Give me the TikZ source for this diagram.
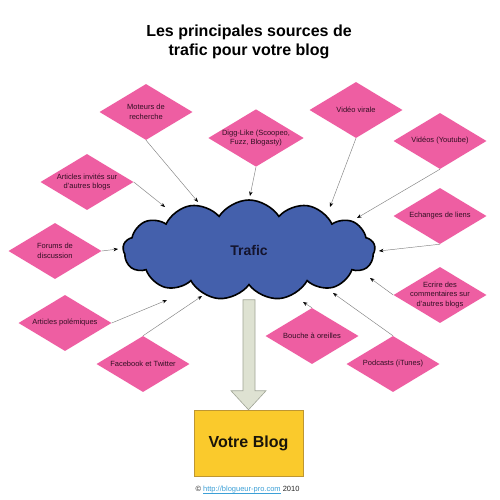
\documentclass[tikz,border=0pt]{standalone}
\usepackage{fontspec}
\setmainfont{Liberation Sans}
\usetikzlibrary{shapes.geometric,shapes.symbols,arrows.meta}
\newcommand\myunderl[1]{\setbox0\hbox{#1}\rlap{\rule[-1.3pt]{\wd0}{0.45pt}}\box0}
\definecolor{pinkd}{RGB}{238,94,162}
\definecolor{cloudb}{RGB}{68,96,172}
\definecolor{bloggy}{RGB}{250,202,44}
\definecolor{blogedge}{RGB}{190,150,50}
\definecolor{arrowfill}{RGB}{222,226,210}
\definecolor{arrowedge}{RGB}{160,165,150}
\definecolor{diatext}{RGB}{50,15,35}
\definecolor{linkc}{RGB}{60,160,215}
\definecolor{lineg}{RGB}{130,130,130}
\tikzset{
  dia/.style={diamond, fill=pinkd, draw=none, aspect=1.66, minimum width=93pt, minimum height=56pt,
    inner sep=0pt, align=center, text=diatext, font=\fontsize{7.5}{9.5}\selectfont},
  feed/.style={draw=lineg, line width=0.45pt, -{Stealth[length=4.5pt,width=3.5pt,black]}},
  trafcloud/.style={cloud, cloud puffs=13, cloud puff arc=115, aspect=2.4, fill=cloudb, draw=black,
    line width=1.6pt, minimum width=252pt, minimum height=100pt, inner sep=0pt,
    font=\fontsize{14}{16}\selectfont\bfseries, text={rgb,255:red,20;green,20;blue,45}},
  blogbox/.style={rectangle, fill=bloggy, draw=blogedge, line width=0.5pt, minimum width=109pt,
    minimum height=66pt, font=\fontsize{16}{18}\selectfont\bfseries, text={rgb,255:red,25;green,20;blue,10}},
  bigarrow/.style={fill=arrowfill, draw=arrowedge, line width=0.6pt}
}
\begin{document}
\begin{tikzpicture}[x=1pt,y=-1pt]
\useasboundingbox (0,0) rectangle (500,500);
\fill[white] (0,0) rectangle (500,500);
\node[align=center, font=\fontsize{16}{19.5}\selectfont\bfseries] (title) at (249,42) {Les principales sources de\\trafic pour votre blog};

\node[blogbox] (blog) at (248.5,443) {Votre Blog};
\draw[bigarrow, shift={(blog.north)}] (-5.5,-110) -- (-5.5,-19) -- (-17.5,-19) -- (0,0) -- (17.5,-19) -- (6.5,-19) -- (6.5,-110) -- cycle;

\node[trafcloud] (cloud) at (249,250) {Trafic};

\node[dia] (moteurs) at (146,112) {Moteurs de\\recherche};
\node[dia] (digg) at (256,138) {Digg-Like (Scoopeo,\\Fuzz, Blogasty)};
\node[dia] (virale) at (356,110) {Vidéo virale};
\node[dia] (youtube) at (440,141) {Vidéos (Youtube)};
\node[dia] (invites) at (87,182) {Articles invités sur\\d'autres blogs};
\node[dia] (forums) at (55,251) {Forums de\\discussion};
\node[dia] (polem) at (65,323) {Articles polémiques};
\node[dia] (facebook) at (143,364) {Facebook et Twitter};
\node[dia] (echanges) at (440,216) {Echanges de liens};
\node[dia, inner sep=-8pt] (ecrire) at (440,295) {Ecrire des\\commentaires sur\\d'autres blogs};
\node[dia] (bouche) at (312,336) {Bouche à oreilles};
\node[dia] (podcasts) at (393,364) {Podcasts (iTunes)};

\coordinate (tMoteurs) at (198,202);
\coordinate (tDigg) at (250,196);
\coordinate (tVirale) at (330,207);
\coordinate (tYoutube) at (357,218);
\coordinate (tInvites) at (165,207);
\coordinate (tForums) at (118,249);
\coordinate (tPolem) at (167,300);
\coordinate (tFacebook) at (202,296);
\coordinate (tEchanges) at (379,251);
\coordinate (tEcrire) at (370,278);
\coordinate (tBouche) at (303,302);
\coordinate (tPodcasts) at (333,293);

\draw[feed] (moteurs.south) -- (tMoteurs);
\draw[feed] (digg.south) -- (tDigg);
\draw[feed] (virale.south) -- (tVirale);
\draw[feed] (youtube.south) -- (tYoutube);
\draw[feed] (invites.east) -- (tInvites);
\draw[feed] (forums.east) -- (tForums);
\draw[feed] (polem.east) -- (tPolem);
\draw[feed] (facebook.north) -- (tFacebook);
\draw[feed] (echanges.south) -- (tEchanges);
\draw[feed] (ecrire.west) -- (tEcrire);
\draw[feed] (bouche.north) -- (tBouche);
\draw[feed] (podcasts.north) -- (tPodcasts);

\node[font=\fontsize{7.5}{9}\selectfont, text={rgb,255:red,40;green,40;blue,40}] (footer) at (247.5,490)
  {© \textcolor{linkc}{\myunderl{http://blogueur-pro.com}} 2010};
\end{tikzpicture}
\end{document}
